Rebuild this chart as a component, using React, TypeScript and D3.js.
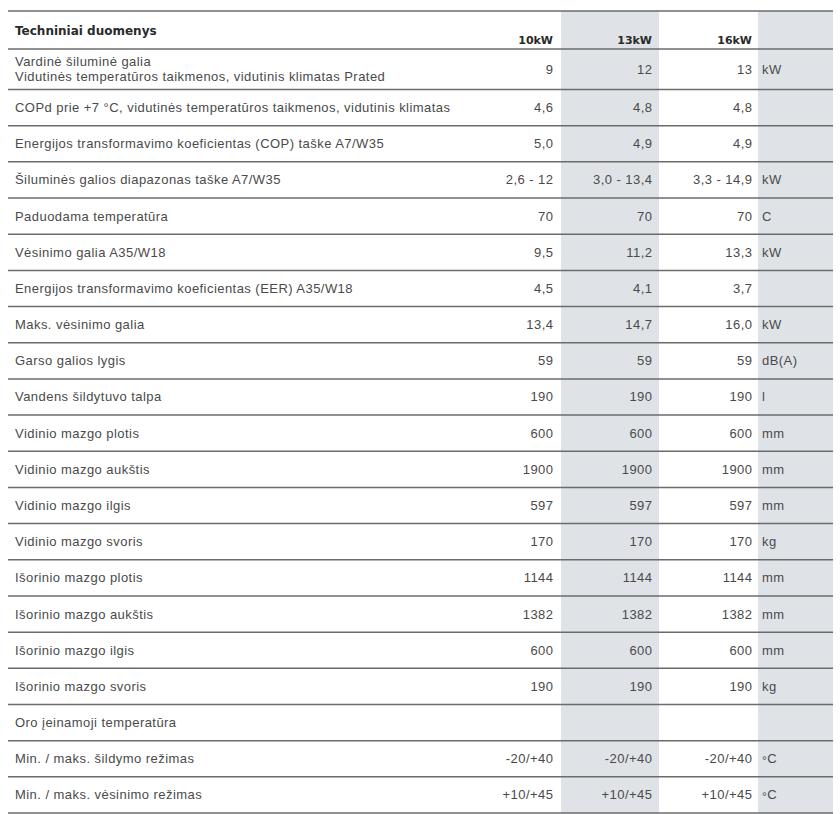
import React from "react";
import * as d3 from "d3";

const title = "Techniniai duomenys";
const columns = ["10kW", "13kW", "16kW"];
const rowLabels: string[][] = [
  ["Vardinė šiluminė galia", "Vidutinės temperatūros taikmenos, vidutinis klimatas Prated"],
  ["COPd prie +7 °C, vidutinės temperatūros taikmenos, vidutinis klimatas"],
  ["Energijos transformavimo koeficientas (COP) taške A7/W35"],
  ["Šiluminės galios diapazonas taške A7/W35"],
  ["Paduodama temperatūra"],
  ["Vėsinimo galia A35/W18"],
  ["Energijos transformavimo koeficientas (EER) A35/W18"],
  ["Maks. vėsinimo galia"],
  ["Garso galios lygis"],
  ["Vandens šildytuvo talpa"],
  ["Vidinio mazgo plotis"],
  ["Vidinio mazgo aukštis"],
  ["Vidinio mazgo ilgis"],
  ["Vidinio mazgo svoris"],
  ["Išorinio mazgo plotis"],
  ["Išorinio mazgo aukštis"],
  ["Išorinio mazgo ilgis"],
  ["Išorinio mazgo svoris"],
  ["Oro įeinamoji temperatūra"],
  ["Min. / maks. šildymo režimas"],
  ["Min. / maks. vėsinimo režimas"],
];
const values10 = ["9", "4,6", "5,0", "2,6 - 12", "70", "9,5", "4,5", "13,4", "59", "190", "600", "1900", "597", "170", "1144", "1382", "600", "190", "", "-20/+40", "+10/+45"];
const values13 = ["12", "4,8", "4,9", "3,0 - 13,4", "70", "11,2", "4,1", "14,7", "59", "190", "600", "1900", "597", "170", "1144", "1382", "600", "190", "", "-20/+40", "+10/+45"];
const values16 = ["13", "4,8", "4,9", "3,3 - 14,9", "70", "13,3", "3,7", "16,0", "59", "190", "600", "1900", "597", "170", "1144", "1382", "600", "190", "", "-20/+40", "+10/+45"];
const units = ["kW", "", "", "kW", "C", "kW", "", "kW", "dB(A)", "l", "mm", "mm", "mm", "kg", "mm", "mm", "mm", "kg", "", "°C", "°C"];

const W = 840;
const H = 814;
const TEXT = "#4a4a4a";
const LINE = "#6b6b6b";
const SHADE = "#dfe3e7";
const BODY_FONT = "'Liberation Sans', Arial, sans-serif";
const BOLD_FONT = "'DejaVu Sans', sans-serif";
const BODY_SIZE = 13;
const BODY_SPACING = 0.45;

function UnitText({ u }: { u: string }) {
  if (u.startsWith("°")) {
    return (
      <>
        <tspan fontSize={12} dy={1.5}>
          {"°"}
        </tspan>
        <tspan dy={-1.5}>{u.slice(1)}</tspan>
      </>
    );
  }
  return <>{u}</>;
}

export default function App() {
  const left = 8;
  const right = 833;
  const topY = 11;
  const headerBottom = 49;
  const firstBottom = 89.5;
  const bottom = 813;
  const n = rowLabels.length;

  const yRest = d3.scaleLinear().domain([1, n]).range([firstBottom, bottom]);
  const rowTop = (i: number) => (i === 0 ? headerBottom : yRest(i));
  const rowBottom = (i: number) => (i === 0 ? firstBottom : yRest(i + 1));

  const colRight = d3.scaleOrdinal<string, number>().domain(columns).range([553, 652, 752]);
  const shadeCols = [
    { x0: 561, x1: 659 },
    { x0: 758, x1: right },
  ];
  const unitX = 762;
  const series = [values10, values13, values16];

  const lines = [topY, headerBottom, ...d3.range(0, n).map((i) => rowBottom(i))];

  const bodyProps = {
    fontFamily: BODY_FONT,
    fontSize: BODY_SIZE,
    fill: TEXT,
    letterSpacing: BODY_SPACING,
  };

  return (
    <svg width={W} height={H} style={{ display: "block", position: "absolute", left: 0, top: 0 }}>
      <rect x={0} y={0} width={W} height={H} fill="#fff" />
      {shadeCols.map((c, i) => (
        <rect key={i} x={c.x0} y={topY} width={c.x1 - c.x0} height={bottom - topY} fill={SHADE} />
      ))}
      {lines.map((y, i) => (
        <line key={i} x1={left} x2={right} y1={y} y2={y} stroke={LINE} strokeWidth={1.5} />
      ))}
      <text x={15} y={35} fontFamily={BOLD_FONT} fontWeight="bold" fontSize={12} fill="#2a2a2a">
        {title}
      </text>
      {columns.map((c) => (
        <text key={c} x={colRight(c)} y={44} textAnchor="end" fontFamily={BOLD_FONT} fontWeight="bold" fontSize={11} fill="#2a2a2a">
          {c}
        </text>
      ))}
      {rowLabels.map((lbl, i) => {
        const t = rowTop(i);
        const b = rowBottom(i);
        const mid = (t + b) / 2;
        return (
          <g key={i}>
            {lbl.length === 1 ? (
              <text x={15} y={mid + 4.5} {...bodyProps}>
                {lbl[0]}
              </text>
            ) : (
              lbl.map((l, j) => (
                <text key={j} x={15} y={t + 17 + j * 14.5} {...bodyProps}>
                  {l}
                </text>
              ))
            )}
            {series.map((s, k) => (
              <text key={k} x={colRight(columns[k]) + BODY_SPACING} y={mid + 4.5} textAnchor="end" {...bodyProps}>
                {s[i]}
              </text>
            ))}
            <text x={unitX} y={mid + 4.5} {...bodyProps}>
              <UnitText u={units[i]} />
            </text>
          </g>
        );
      })}
    </svg>
  );
}
